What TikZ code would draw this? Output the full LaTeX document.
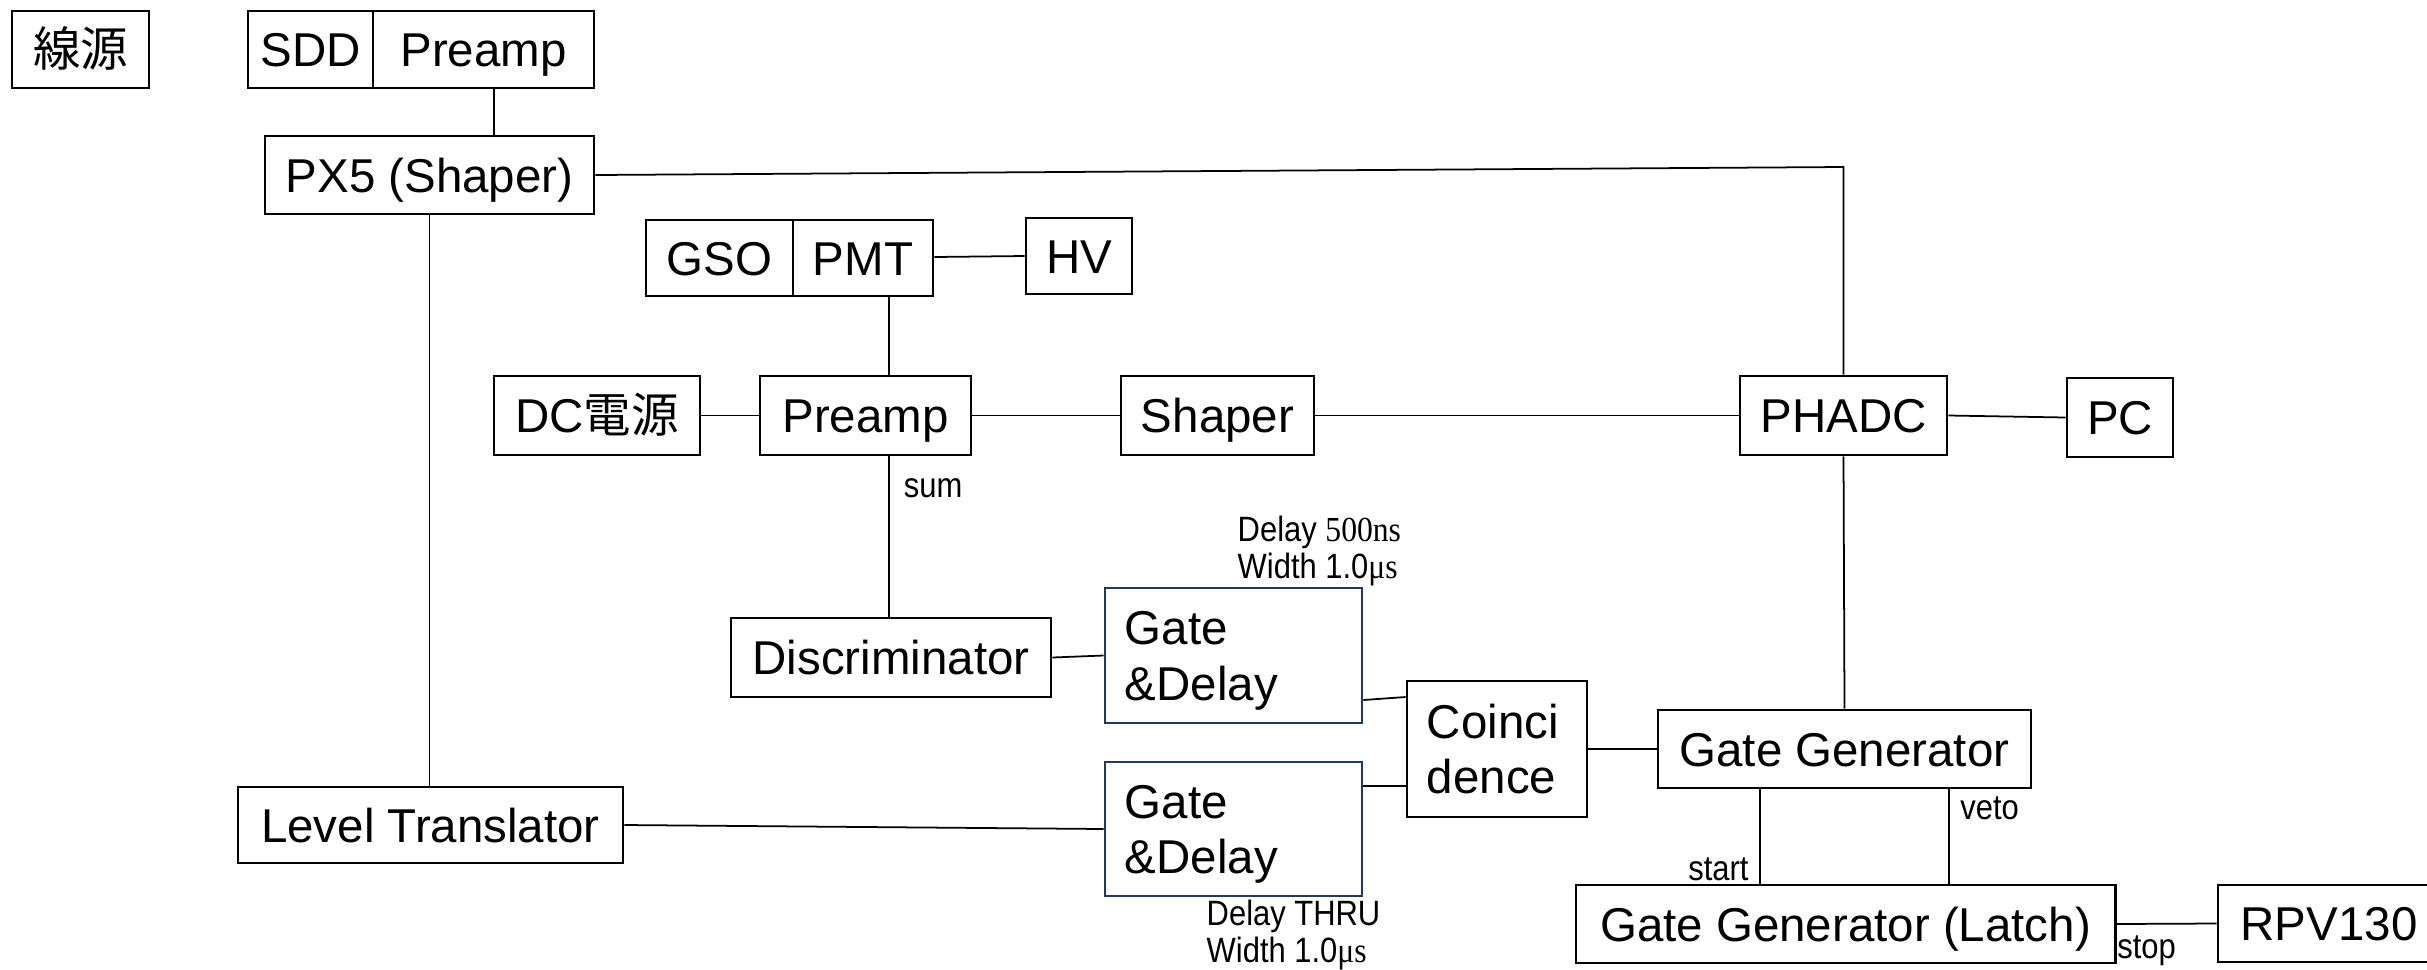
\documentclass[tikz,border=0pt]{standalone}
\usepackage{fontspec}
\setmainfont{Liberation Sans}
\newfontfamily\jpfont{Noto Sans CJK JP}
\newfontfamily\narrowf[FakeStretch=0.88]{Liberation Sans}
\newfontfamily\seriff[FakeStretch=0.9]{Liberation Serif}
\definecolor{gdblue}{RGB}{32,56,100}
\begin{document}
\begin{tikzpicture}[x=0.01cm,y=-0.01cm,
  box/.style={draw=black, line width=0.75pt, rectangle, inner sep=0pt,
    font=\fontsize{13.5}{15.9}\selectfont, text height=0.42cm, text depth=0.08cm},
  twobox/.style={draw=black, line width=0.75pt, rectangle, inner xsep=0.2cm, inner ysep=0pt,
    align=left, font=\fontsize{13.5}{15.9}\selectfont, text height=0.42cm, text depth=0.64cm},
  conn/.style={line width=0.5pt},
  lbl/.style={font=\narrowf\fontsize{10}{10.5}\selectfont, inner sep=0pt}]
\useasboundingbox (0,0) rectangle (2427,969);
\clip (0,0) rectangle (2427,969);
% boxes
\node[box, minimum width=1.37cm, minimum height=0.77cm] (src) at (80.5,49.5) {\jpfont 線源};
\node[box, minimum width=1.25cm, minimum height=0.77cm] (sdd) at (310.5,49.5) {SDD};
\node[box, minimum width=2.21cm, minimum height=0.77cm] (pre0) at (483.5,49.5) {Preamp};
\node[box, minimum width=3.29cm, minimum height=0.78cm] (px5) at (429.5,175) {PX5 (Shaper)};
\node[box, minimum width=1.47cm, minimum height=0.76cm] (gso) at (719.5,258) {GSO};
\node[box, minimum width=1.40cm, minimum height=0.76cm] (pmt) at (863,258) {PMT};
\node[box, minimum width=1.06cm, minimum height=0.76cm] (hv) at (1079,256) {HV};
\node[box, minimum width=2.06cm, minimum height=0.79cm] (dc) at (597,415.5) {DC{\jpfont 電源}};
\node[box, minimum width=2.11cm, minimum height=0.79cm] (pre) at (865.5,415.5) {Preamp};
\node[box, minimum width=1.93cm, minimum height=0.79cm] (shp) at (1217.5,415.5) {Shaper};
\node[box, minimum width=2.07cm, minimum height=0.79cm] (phadc) at (1843.5,415.5) {PHADC};
\node[box, minimum width=1.06cm, minimum height=0.79cm] (pc) at (2120,417.5) {PC};
\node[box, minimum width=3.20cm, minimum height=0.79cm] (disc) at (891,657.5) {Discriminator};
\node[twobox, draw=gdblue, text width=2.17cm, minimum height=1.35cm] (gd1) at (1233.5,655.5) {Gate\\\&Delay};
\node[twobox, text width=1.40cm, minimum height=1.36cm] (coin) at (1497,749) {Coinci\\dence};
\node[twobox, draw=gdblue, text width=2.17cm, minimum height=1.34cm] (gd2) at (1233.5,829) {Gate\\\&Delay};
\node[box, minimum width=3.85cm, minimum height=0.76cm] (lt) at (430.5,825) {Level Translator};
\node[box, minimum width=3.73cm, minimum height=0.78cm] (gg) at (1844.5,749) {Gate Generator};
\node[box, minimum width=5.39cm, minimum height=0.78cm] (latch) at (1845.5,924) {Gate Generator (Latch)};
\node[box, minimum width=2.22cm, minimum height=0.77cm] (rpv) at (2329,923.5) {RPV130};
% labels
\node[lbl, anchor=west, align=left] (d1) at (1237,551) {Delay {\seriff 500ns}\\Width 1.0{\seriff μs}};
\node[lbl, anchor=west, align=left] (d2) at (1206,935) {Delay THRU\\Width 1.0{\seriff μs}};
% helper coordinates
\coordinate (xa) at (494,0);
\coordinate (xb) at (889,0);
\coordinate (yc) at (0,167);
\coordinate (yp) at (0,257);
\coordinate (ya) at (0,700);
\coordinate (yb) at (0,697);
\coordinate (yd) at (0,786);
\coordinate (xs) at (1760,0);
\coordinate (xv) at (1949,0);
% connectors
\draw[conn] (pre0.south -| xa) -- (px5.north -| xa);
\draw[conn] (px5.east) -- (phadc.north |- yc) -- (phadc.north);
\draw[conn] (px5.south) -- (lt.north -| px5.south);
\draw[conn] (pmt.east |- yp) -- (hv.west);
\draw[conn] (pmt.south -| xb) -- (pre.north -| xb);
\draw[conn] (dc.east) -- (pre.west);
\draw[conn] (pre.east) -- (shp.west);
\draw[conn] (shp.east) -- (phadc.west);
\draw[conn] (phadc.east) -- (pc.west);
\draw[conn] (pre.south -| xb) -- node[lbl, pos=0.2, right=4pt] (sum) {sum} (disc.north -| xb);
\draw[conn] (disc.east) -- (gd1.west);
\draw[conn] (gd1.east |- ya) -- (coin.west |- yb);
\draw[conn] (gd2.east |- yd) -- (coin.west |- yd);
\draw[conn] (lt.east) -- (gd2.west);
\draw[conn] (coin.east) -- (gg.west);
\draw[conn] (phadc.south) -- (gg.north);
\draw[conn] (gg.south -| xs) -- node[lbl, pos=0.85, left=3pt] (start) {start} (latch.north -| xs);
\draw[conn] (gg.south -| xv) -- node[lbl, pos=0.2, right=3pt] (veto) {veto} (latch.north -| xv);
\draw[conn] (latch.east) -- node[lbl, below=3pt, pos=0.3] (stop) {stop} (rpv.west);
\end{tikzpicture}
\end{document}
